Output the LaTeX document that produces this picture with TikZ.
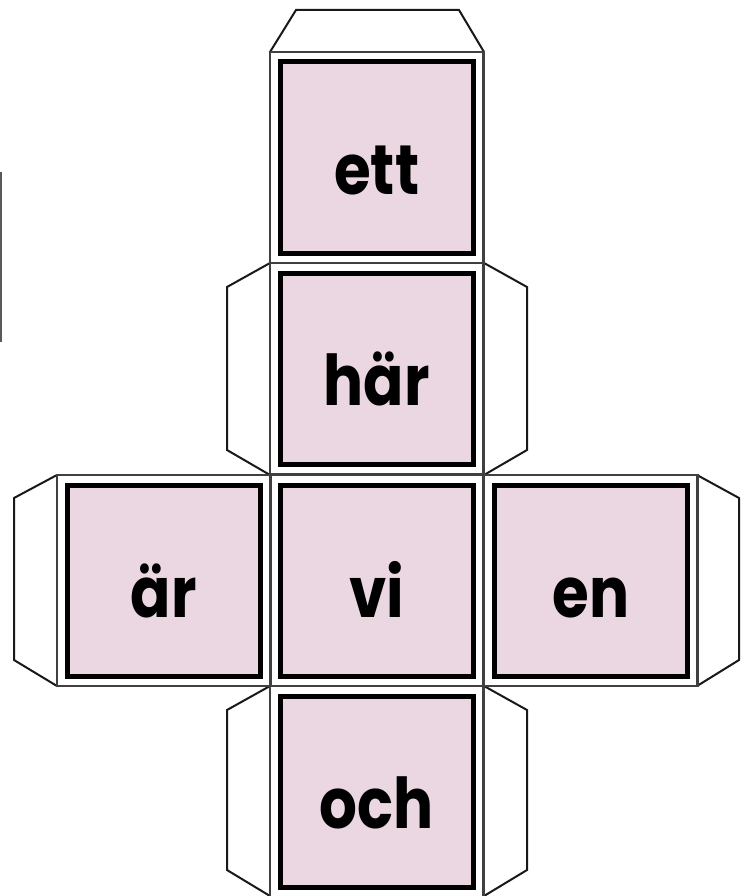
\documentclass[tikz,border=0pt]{standalone}
\usepackage{fontspec}
\setmainfont{Poppins}[FakeStretch=0.85]
\definecolor{facepink}{RGB}{234,215,226}
\begin{document}
\begin{tikzpicture}[x=1pt,y=-1pt,
  cell/.style={draw=black!75,line width=2.4pt},
  face/.style={draw=black,line width=5pt,fill=facepink},
  tab/.style={draw=black!90,line width=2pt,line join=miter,fill=white},
  word/.style={font=\fontsize{70}{84}\selectfont\bfseries,anchor=base,inner sep=0pt}]
\useasboundingbox (0,0) rectangle (754,896);
% stray edge line at left
\draw[line width=2.5pt,black!65] (1.2,172) -- (1.2,342);
% glue tabs
\draw[tab] (270,52) -- (296,10) -- (459,10) -- (484,52);
\draw[tab] (270,263) -- (227,287) -- (227,450) -- (270,475);
\draw[tab] (484,263) -- (527,287) -- (527,450) -- (484,475);
\draw[tab] (57,475) -- (14,498) -- (14,660) -- (57,686);
\draw[tab] (697,475) -- (739,498) -- (739,660) -- (697,686);
\draw[tab] (270,686) -- (227,710) -- (227,870) -- (270,896);
\draw[tab] (484,686) -- (527,710) -- (527,870) -- (484,896);
% faces
\foreach \x/\y/\n/\t in {270/52/ett/ett, 270/263/har/här, 57/475/ar/är, 270/475/vi/vi, 484/475/en/en, 270/686/och/och} {
  \draw[cell] (\x,\y) rectangle ++(213.5,211);
  \draw[face] (\x+10,\y+10) rectangle ++(193.5,191);
  \node[word] (\n) at (\x+106.75,\y+142) {\t};
}
\end{tikzpicture}
\end{document}
